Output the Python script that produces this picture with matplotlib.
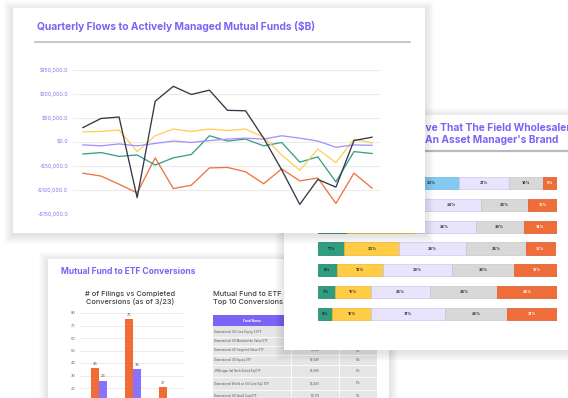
import numpy as np
import matplotlib
matplotlib.use('Agg')
import matplotlib.pyplot as plt
from matplotlib.patches import Rectangle
from matplotlib.ticker import FuncFormatter

W, H = 568, 398

# Quarterly flows to actively managed mutual funds, in $ thousands of $B
quarters = ['Q1 19', 'Q2 19', 'Q3 19', 'Q4 19', 'Q1 20', 'Q2 20', 'Q3 20', 'Q4 20', 'Q1 21',
            'Q2 21', 'Q3 21', 'Q4 21', 'Q1 22', 'Q2 22', 'Q3 22', 'Q4 22', 'Q1 23']
taxable_bond = [30, 49, 52, -116, 85, 116, 99, 108, 66, 65, 8, -58, -130, -78, -94, 3, 10]
allocation = [21, 22, 25, -20, 13, 27, 22, 27, 24, 27, 10, -27, -59, -15, -43, 6, -2]
municipal = [-6, -8, -4, -8, -3, 2, -1, 3, 6, 8, 6, 13, 8, 2, -11, -6, -7]
international = [-25, -22, -30, -27, -48, -33, -26, 13, 2, 6, -8, -1, -42, -31, -83, -20, -24]
us_equity = [-65, -71, -88, -106, -33, -97, -90, -54, -53, -62, -87, -56, -81, -75, -128, -65, -96]

# Survey rows (share of advisors, %)
survey_green = [14, 14, 12, 11, 8, 7, 6]
survey_yellow = [22, 30, 28, 23, 19, 15, 16]
survey_blue = [23, 0, 0, 0, 0, 0, 0]
survey_lavender = [21, 24, 26, 28, 29, 25, 31]
survey_gray = [14, 20, 20, 25, 26, 28, 26]
survey_orange = [6, 12, 14, 12, 19, 25, 21]

# Mutual fund to ETF conversions
conv_years = ['2021', '2022', '2023 YTD']
filings = [36, 75, 21]
completed = [26, 35, 4]

fund_names = ['Dimensional US Core Equity 2 ETF', 'Dimensional US Marketwide Value ETF',
              'Dimensional US Targeted Value ETF', 'Dimensional US Equity ETF',
              'JPMorgan Intl Rsch Enhcd Eq ETF', 'Dimensional World ex US Core Eq2 ETF',
              'Dimensional US Small Cap ETF']
fund_aum = ['$24,870', '$9,812', '$7,421', '$6,546', '$5,588', '$5,400', '$5,174']
fund_pct = ['21%', '9%', '7%', '5%', '6%', '6%', '7%']

PURPLE = '#7b63f6'
FONT = ['Inter', 'DejaVu Sans']
plt.rcParams['font.family'] = FONT

fig = plt.figure(figsize=(W / 100, H / 100), dpi=100)
fig.patch.set_facecolor('white')
renderer = fig.canvas.get_renderer()


def layer(z):
    # full figure axes in pixel coords, transparent
    ax = fig.add_axes([0, 0, 1, 1], zorder=z, label='layer%d' % z)
    ax.set_xlim(0, W)
    ax.set_ylim(H, 0)
    ax.axis('off')
    ax.patch.set_visible(False)
    return ax


def px_axes(x0, y0, x1, y1, z):
    ax = fig.add_axes([x0 / W, 1 - y1 / H, (x1 - x0) / W, (y1 - y0) / H], zorder=z)
    ax.patch.set_visible(False)
    return ax


def slide(ax, x0, y0, x1, y1):
    # soft drop shadow then the white card
    for i in range(9, 0, -1):
        ax.add_patch(Rectangle((x0 - i, y0 - i + 2), x1 - x0 + 2 * i, y1 - y0 + 2 * i,
                               color='black', alpha=0.01, lw=0))
    ax.add_patch(Rectangle((x0, y0), x1 - x0, y1 - y0, color='white', lw=0))


def text_width(s, size, **kw):
    t = fig.text(0, 0, s, fontsize=size, **kw)
    w = t.get_window_extent(renderer).width
    t.remove()
    return w


def fit_size(s, width, **kw):
    return 10 * width / text_width(s, 10, **kw)


# ---------- back slide: mutual fund to ETF conversions ----------
L0 = layer(0)
slide(L0, 48, 259, 389, 420)
sz = fit_size('Mutual Fund to ETF Conversions', 135, fontweight='bold')
L0.text(61, 272, 'Mutual Fund to ETF Conversions', fontsize=sz, fontweight='bold',
        color=PURPLE, va='center')

sub_sz = fit_size('# of Filings vs Completed', 90, fontweight='medium')
L0.text(130, 298, '# of Filings vs Completed\nConversions (as of 3/23)', fontsize=sub_sz,
        fontweight='medium', color='#444444', ha='center', va='center', linespacing=1.25)
L0.text(213, 298, 'Mutual Fund to ETF Conversions:\nTop 10 Conversions by AUM ($M)',
        fontsize=sub_sz, fontweight='medium', color='#444444', ha='left', va='center',
        linespacing=1.25)

# table
cols = [213, 291, 339, 377]
row_edges = [326, 337, 346, 355, 365, 377, 390, 402]
L0.add_patch(Rectangle((cols[0], 315), cols[-1] - cols[0], 11, color=PURPLE, lw=0))
for cx, head in zip(cols[:-1], ['Fund Name', 'AUM ($M)', '% of AUM']):
    L0.text(cx + 39 if head == 'Fund Name' else cx + 24, 320.5, head, fontsize=2.3,
            color='white', ha='center', va='center', fontweight='bold')
L0.add_patch(Rectangle((cols[0], 326), cols[-1] - cols[0], row_edges[-1] - 326,
                       color='#e6e6e6', lw=0))
for y in row_edges[1:-1]:
    L0.plot([cols[0], cols[-1]], [y, y], color='white', lw=0.6)
for x in cols[1:-1]:
    L0.plot([x, x], [326, row_edges[-1]], color='white', lw=0.6)
for i, (name, aum, pct) in enumerate(zip(fund_names, fund_aum, fund_pct)):
    yc = (row_edges[i] + row_edges[i + 1]) / 2
    L0.text(cols[0] + 1, yc, name, fontsize=2.1, color='#555555', va='center')
    L0.text((cols[1] + cols[2]) / 2, yc, aum, fontsize=2.1, color='#555555', va='center', ha='center')
    L0.text((cols[2] + cols[3]) / 2, yc, pct, fontsize=2.1, color='#555555', va='center', ha='center')

# filings bar chart (bottom part runs off the picture)
bx = px_axes(80, 313, 184, 413, 1)
pos = np.arange(len(conv_years))
bw = 0.235
b1 = bx.bar(pos - bw / 2, filings, bw, color='#ef6c37')
b2 = bx.bar(pos + bw / 2, completed, bw, color='#8a72ff')
bx.bar_label(b1, fontsize=2.8, color='#555555', padding=1.5)
# last completed label sits below the picture edge
bx.bar_label(b2, labels=[str(v) for v in completed[:2]] + [''], fontsize=2.8,
             color='#555555', padding=1.5)
bx.set_xlim(-0.56, 2.5)
bx.set_ylim(0, 80)
bx.set_yticks(range(20, 81, 10))
bx.set_xticks([])
bx.tick_params(labelsize=2.8, colors='#666666', length=0, pad=3)
bx.grid(axis='y', color='#e8e8e8', lw=0.6)
bx.set_axisbelow(True)
for s in bx.spines.values():
    s.set_visible(False)

# ---------- middle slide: field wholesaler survey ----------
L2 = layer(2)
slide(L2, 284, 115, 600, 350)
tsz = fit_size("An Asset Manager's Brand", 134, fontweight='bold')
line1 = 'Do Advisors Believe That The Field Wholesaler'
off1 = text_width('Do Advisors Belie', tsz, fontweight='bold')
L2.text(425 - off1, 128, line1, fontsize=tsz, fontweight='bold', color=PURPLE, va='center')
line2 = "Is An Asset Manager's Brand"
off2 = text_width('Is ', tsz, fontweight='bold')
L2.text(425 - off2, 140, line2, fontsize=tsz, fontweight='bold', color=PURPLE, va='center')
L2.plot([300, 600], [151, 151], color='#b8bac4', lw=1.6)

sx = px_axes(318, 172.1, 557, 324.9, 3)
segments = [(survey_green, '#2f9e80', '#1f7a62', '#222222'),
            (survey_yellow, '#ffcd45', '#f2b52a', '#333333'),
            (survey_blue, '#83c9f0', '#6bb8e3', '#333333'),
            (survey_lavender, '#e9e4fc', '#cfc6f5', '#333333'),
            (survey_gray, '#d8d8d8', '#c8c8c8', '#333333'),
            (survey_orange, '#ee6d38', '#d9592a', 'white')]
rows = np.arange(len(survey_green))
left = np.zeros(len(rows))
for vals, col, edge, tcol in segments:
    vals = np.array(vals)
    sx.barh(rows, vals, 0.55, left=left, color=col, edgecolor=edge, lw=0.5)
    for r, v, l in zip(rows, vals, left):
        if v > 0:
            sx.text(l + v / 2, r, '%d%%' % v, fontsize=2.8, fontweight='bold', color=tcol,
                    ha='center', va='center')
    left += vals
sx.set_xlim(0, 100)
sx.set_ylim(6.5, -0.5)
sx.axis('off')

# ---------- front slide: quarterly flows ----------
L4 = layer(4)
slide(L4, 13, 8, 425, 233)
qsz = fit_size('Quarterly Flows to Actively Managed Mutual Funds ($B)', 279, fontweight='bold')
L4.text(37, 26, 'Quarterly Flows to Actively Managed Mutual Funds ($B)', fontsize=qsz,
        fontweight='bold', color=PURPLE, va='center')
L4.plot([35, 410], [42, 42], color='#b4b6c2', lw=1.1)

lx = px_axes(73, 70, 380, 214, 5)
x = np.arange(len(quarters))
series = [(us_equity, '#ef7540'), (international, '#3a9f86'), (allocation, '#ffcf5c'),
          (municipal, '#a592ff'), (taxable_bond, '#343848')]
for vals, col in series:
    lx.plot(x, np.array(vals) * 1000, color=col, lw=0.95, clip_on=False)
lx.set_xlim(-0.55, 16.44)
lx.set_ylim(-150000, 150000)
lx.set_yticks(range(-150000, 150001, 50000))
lx.yaxis.set_major_formatter(FuncFormatter(
    lambda v, p: ('-$%s' % format(abs(v), ',.1f')) if v < 0 else ('$%s' % format(v, ',.1f'))))
lx.set_xticks([])
lx.tick_params(axis='y', labelsize=3.8, colors='#8677f0', length=0, pad=3.6)
lx.grid(axis='y', color='#ebebeb', lw=0.8)
lx.set_axisbelow(True)
for s in lx.spines.values():
    s.set_visible(False)

fig.savefig('out.png', dpi=100)
